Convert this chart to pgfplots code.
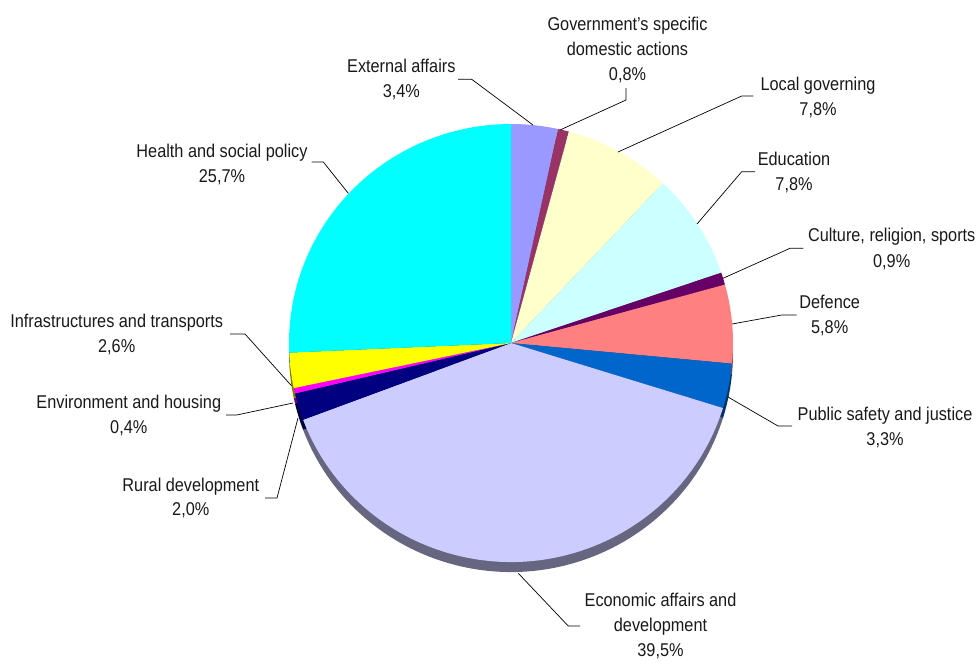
\documentclass[border=0pt]{standalone}
\usepackage{fontspec}
\setmainfont[FakeStretch=0.88]{Liberation Sans}
\usepackage{pgfplots}
\usepackage{pgfplotstable}
\pgfplotsset{compat=1.18}

\definecolor{cEA}{HTML}{9999FF}
\definecolor{cGov}{HTML}{993366}
\definecolor{cLoc}{HTML}{FFFFCC}
\definecolor{cEdu}{HTML}{CCFFFF}
\definecolor{cCul}{HTML}{660066}
\definecolor{cDef}{HTML}{FF8080}
\definecolor{cPub}{HTML}{0066CC}
\definecolor{cEco}{HTML}{CCCCFF}
\definecolor{cRur}{HTML}{000080}
\definecolor{cEnv}{HTML}{FF00FF}
\definecolor{cInf}{HTML}{FFFF00}
\definecolor{cHea}{HTML}{00FFFF}

% shares in %, clockwise from 12 o'clock
\pgfplotstableread{
value color
3.4  cEA
0.8  cGov
7.8  cLoc
7.8  cEdu
0.9  cCul
5.8  cDef
3.3  cPub
39.5 cEco
2.0  cRur
0.4  cEnv
2.6  cInf
25.7 cHea
}\piedata

% #1 = centre y (pixels, downwards), #2 = share of own colour (rest black)
\newcommand\pieslices[2]{%
  \def\cum{0}%
  \pgfplotsforeachungrouped \i in {0,...,\lastrow}{%
    \pgfplotstablegetelem{\i}{value}\of\piedata \let\v\pgfplotsretval
    \pgfplotstablegetelem{\i}{color}\of\piedata \let\c\pgfplotsretval
    \pgfmathsetmacro\a{90-3.6*\cum}%
    \pgfmathsetmacro\b{90-3.6*(\cum+\v)}%
    \edef\temp{\noexpand\fill[\c!#2!black] (axis cs:511,#1) -- ++(\a:222pt and 219pt)
      arc[start angle=\a, end angle=\b, x radius=222pt, y radius=219pt] -- cycle;}%
    \temp
    \pgfmathsetmacro\cum{\cum+\v}%
  }%
}
\newcommand\lab[3]{\node[anchor=base, inner sep=0pt] at (axis cs:#1,#2) {#3};}

\begin{document}
\begin{tikzpicture}
\begin{axis}[
  width=979pt, height=664pt, scale only axis,
  xmin=0, xmax=979, ymin=0, ymax=664, y dir=reverse,
  hide axis, clip=false]
  \path (axis cs:0,0) rectangle (axis cs:979,664);
  \pgfplotstablegetrowsof{\piedata}
  \pgfmathtruncatemacro\lastrow{\pgfplotsretval-1}
  % side of the pie, then the top
  \pieslices{353}{50}
  \pieslices{343}{100}

  \begin{scope}[every node/.style={font=\fontsize{18.5}{25}\selectfont, text=black!90}]
  \lab{627.5}{30}{Government’s specific}
  \lab{627.5}{55}{domestic actions}
  \lab{627.5}{80}{0,8\%}
  \lab{401.3}{72.7}{External affairs}
  \lab{401.3}{97.7}{3,4\%}
  \lab{818}{90}{Local governing}
  \lab{818}{115.7}{7,8\%}
  \lab{794}{165}{Education}
  \lab{794}{190.7}{7,8\%}
  \lab{891.7}{241.7}{Culture, religion, sports}
  \lab{891.7}{267.3}{0,9\%}
  \lab{829.7}{308.3}{Defence}
  \lab{829.7}{333.3}{5,8\%}
  \lab{885}{420}{Public safety and justice}
  \lab{885}{445}{3,3\%}
  \lab{660.5}{606.7}{Economic affairs and}
  \lab{660.5}{631.7}{development}
  \lab{660.5}{656.7}{39,5\%}
  \lab{190.8}{491.7}{Rural development}
  \lab{190.8}{515}{2,0\%}
  \lab{128.8}{408.3}{Environment and housing}
  \lab{128.8}{433.3}{0,4\%}
  \lab{116.7}{327.7}{Infrastructures and transports}
  \lab{116.7}{352.7}{2,6\%}
  \lab{222}{157}{Health and social policy}
  \lab{222}{182}{25,7\%}
  \end{scope}

  \begin{scope}[black, line width=0.7pt]
  \draw (axis cs:626,88) -- (axis cs:626,100) -- (axis cs:560,130);
  \draw (axis cs:458,79.3) -- (axis cs:471.7,79.3) -- (axis cs:533,125);
  \draw (axis cs:753.3,96) -- (axis cs:741.7,96) -- (axis cs:618,152);
  \draw (axis cs:755,171.7) -- (axis cs:741.7,171.7) -- (axis cs:697,224);
  \draw (axis cs:803.3,248.3) -- (axis cs:790,248.3) -- (axis cs:723,278.3);
  \draw (axis cs:796.7,315) -- (axis cs:781.7,315) -- (axis cs:732,324);
  \draw (axis cs:728,397) -- (axis cs:778,426) -- (axis cs:792,426);
  \draw (axis cs:518.3,573.3) -- (axis cs:568.3,626) -- (axis cs:580,626);
  \draw (axis cs:265,498) -- (axis cs:277,498) -- (axis cs:298,418);
  \draw (axis cs:226,415) -- (axis cs:236.7,415) -- (axis cs:293,403);
  \draw (axis cs:230,334) -- (axis cs:245,334) -- (axis cs:291.7,386);
  \draw (axis cs:311.7,162) -- (axis cs:323.3,162) -- (axis cs:348.3,193.3);
  \end{scope}
\end{axis}
\end{tikzpicture}
\end{document}
